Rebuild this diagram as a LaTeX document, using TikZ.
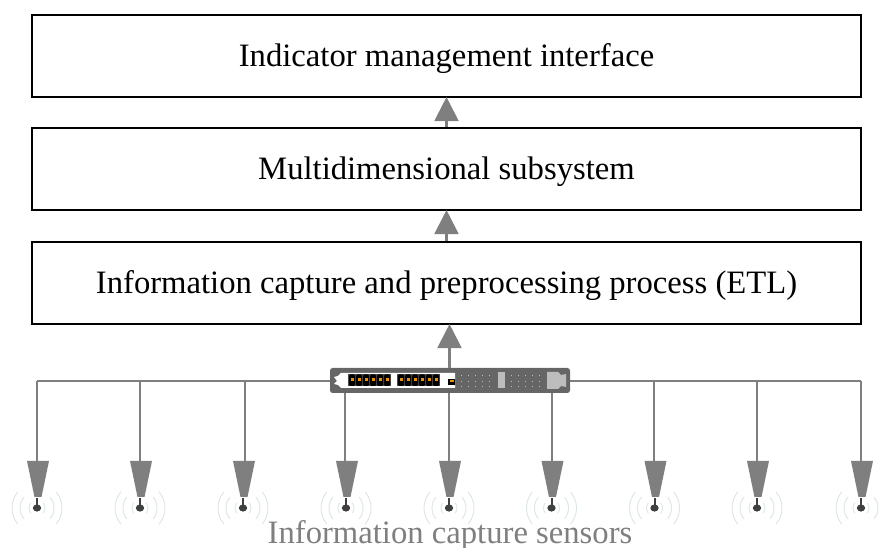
\documentclass[tikz,border=0pt]{standalone}
\usepackage{fontspec}
\setmainfont{Liberation Serif}
\usetikzlibrary{arrows.meta}
\definecolor{conn}{HTML}{7F7F7F}
\definecolor{swbody}{HTML}{666666}
\definecolor{swlight}{HTML}{BDBDBD}
\definecolor{wave}{HTML}{DCE6E2}
\definecolor{ant}{HTML}{404040}
\definecolor{portbg}{HTML}{4A4A4A}
\definecolor{portor}{HTML}{E8900C}
\tikzset{
  x=0.75pt,y=-0.75pt,
  layerbox/.style={draw=black,line width=1.1pt,minimum width=621.5pt,minimum height=61.5pt,inner sep=0pt,text height=17.5pt,text depth=2pt,font=\fontsize{24.5pt}{28pt}\selectfont},
  uparrow/.style={draw=conn,line width=1.6pt,-{Triangle[length=18pt,width=18pt,color=conn]},shorten >=-0.5pt},
  busline/.style={draw=conn,line width=1.5pt},
  funnel/.style={fill=conn,draw=none},
  wavearc/.style={draw=wave,line width=0.7pt},
}
\begin{document}
\begin{tikzpicture}
\useasboundingbox (0,0) rectangle (879,548);
\node[layerbox] (top) at (446.5,56) {Indicator management interface};
\node[layerbox] (mid) at (446.5,169) {Multidimensional subsystem};
\node[layerbox] (etl) at (446.5,283) {Information capture and preprocessing process (ETL)};
\draw[uparrow] (mid.north) -- (top.south);
\draw[uparrow] (etl.north) -- (mid.south);
% bus
\coordinate (busL) at (37,381);
\coordinate (busR) at (861,381);
\draw[busline] (busL) -- (busR);
% sensors
\foreach \n/\xl/\xc in {1/37/38,2/140/141,3/245/244,4/344.5/347,5/449/450,6/552/552.5,7/654/655.5,8/757/758,9/861/862}{
  \coordinate (tap\n) at (\xl,381);
  \coordinate (in\n) at (\xl,461);
  \draw[busline] (tap\n) -- (in\n);
  \fill[funnel] (\xc-11,461) -- (\xc+11,461) -- (\xc+3.5,497) -- (\xc-3.5,497) -- cycle;
  \begin{scope}[shift={(\xc-1,508)}]
    \foreach \r in {8,17,25}{
      \draw[wavearc] (-40:\r*0.75pt) arc[start angle=-40,end angle=40,radius=\r*0.75pt];
      \draw[wavearc] (140:\r*0.75pt) arc[start angle=140,end angle=220,radius=\r*0.75pt];
    }
    \fill[ant] (-1,-10) rectangle (1,0);
    \fill[ant] (0,0) ellipse[x radius=4.2,y radius=3.6];
  \end{scope}
}
% switch
\node[fill=swbody,rounded corners=2pt,minimum width=180pt,minimum height=18.75pt,inner sep=0pt] (sw) at (450,380.5) {};
\coordinate (swtop) at (449.5,368);
\draw[uparrow] (swtop) -- (etl.south -| swtop);
\fill[white] (341,373) -- (455,373) -- (455,388) -- (341,388) -- (338,385) -- (334,384) -- (337,381) -- (334,377) -- (338,376) -- cycle;
\foreach \xa in {348,397}{
  \fill[portbg] (\xa,374) rectangle +(43,12.5);
  \foreach \i in {0,...,5}{
    \fill[black,rounded corners=1pt] (\xa+1+\i*7,374.5) rectangle +(6.2,11.5);
    \fill[portor] (\xa+2.5+\i*7,378.5) rectangle +(3.2,3);
  }
}
\fill[black] (448,379) rectangle (455,385);
\fill[portor] (450,380) rectangle (454,382.5);
\foreach \xa in {461,468,475,482,489,511,518,525,532,539}
  \foreach \ya in {375,381,386}
    \fill[swlight] (\xa,\ya) rectangle +(1.2,1.2);
\fill[swlight] (497.5,372) rectangle (504.5,388);
\fill[swlight] (547,372) -- (558,372) -- (561,375) -- (566,374) -- (566,387) -- (561,386) -- (558,389) -- (547,389) -- cycle;
\node[text=conn,font=\fontsize{24.5pt}{28pt}\selectfont,inner sep=0pt,anchor=base] (cap) at (450,544) {Information capture sensors};
\end{tikzpicture}
\end{document}
